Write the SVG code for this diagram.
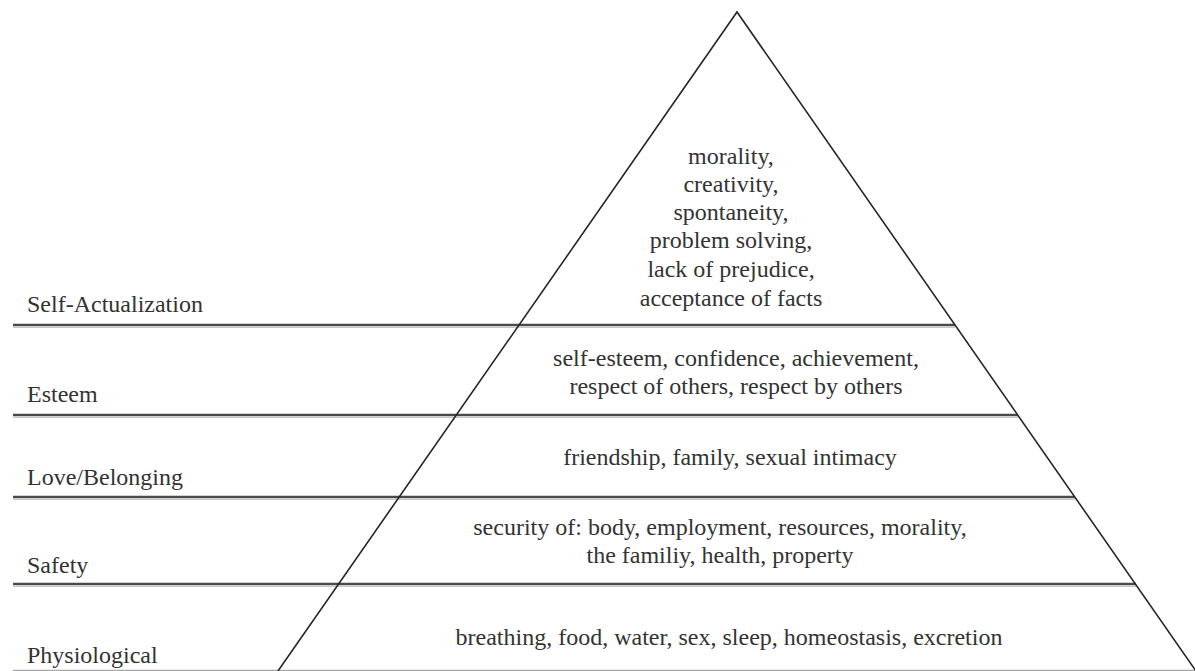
<svg xmlns="http://www.w3.org/2000/svg" width="1195" height="671" viewBox="0 0 1195 671">
  <style>
    .bg { fill: #ffffff; }
    .edge { fill: none; stroke: #262626; stroke-width: 1.6; stroke-linejoin: miter; }
    .rule { stroke: #4a4a4a; stroke-width: 2.4; }
    .rule-shadow { stroke: #c8c8c8; stroke-width: 1.2; }
    .base { stroke: #a8a8a8; stroke-width: 1.5; }
    .label { font-family: "Liberation Serif", "Times New Roman", serif; font-size: 24px; fill: #333333; }
    .need { font-family: "Liberation Serif", "Times New Roman", serif; font-size: 24px; fill: #333333; text-anchor: middle; }
  </style>

  <rect class="bg" x="0" y="0" width="1195" height="671"/>

  <!-- horizontal tier dividers, each running from the left margin to the right side of the pyramid -->
  <g id="dividers">
    <line class="rule-shadow" x1="13" y1="327.5" x2="955" y2="327.5"/>
    <line class="rule" x1="13" y1="325" x2="955" y2="325"/>
    <line class="rule-shadow" x1="13" y1="417.5" x2="1018" y2="417.5"/>
    <line class="rule" x1="13" y1="415" x2="1018" y2="415"/>
    <line class="rule-shadow" x1="13" y1="499.5" x2="1075" y2="499.5"/>
    <line class="rule" x1="13" y1="497" x2="1075" y2="497"/>
    <line class="rule-shadow" x1="13" y1="586.5" x2="1136" y2="586.5"/>
    <line class="rule" x1="13" y1="584" x2="1136" y2="584"/>
    <line class="base" x1="13" y1="670.5" x2="1195" y2="670.5"/>
  </g>

  <!-- pyramid outline -->
  <g id="pyramid">
    <polyline class="edge" points="278,671 737,12 1196,671"/>
  </g>

  <g id="tier-self-actualization">
    <text class="label" x="27" y="312">Self-Actualization</text>
    <text class="need" x="731" y="164">morality,</text>
    <text class="need" x="731" y="192">creativity,</text>
    <text class="need" x="731" y="220">spontaneity,</text>
    <text class="need" x="731" y="248">problem solving,</text>
    <text class="need" x="731" y="277">lack of prejudice,</text>
    <text class="need" x="731" y="306">acceptance of facts</text>
  </g>

  <g id="tier-esteem">
    <text class="label" x="27" y="402">Esteem</text>
    <text class="need" x="736" y="366">self-esteem, confidence, achievement,</text>
    <text class="need" x="736" y="394">respect of others, respect by others</text>
  </g>

  <g id="tier-love-belonging">
    <text class="label" x="27" y="485">Love/Belonging</text>
    <text class="need" x="730" y="465">friendship, family, sexual intimacy</text>
  </g>

  <g id="tier-safety">
    <text class="label" x="27" y="573">Safety</text>
    <text class="need" x="720" y="535">security of: body, employment, resources, morality,</text>
    <text class="need" x="720" y="563">the familiy, health, property</text>
  </g>

  <g id="tier-physiological">
    <text class="label" x="27" y="663">Physiological</text>
    <text class="need" x="729" y="645">breathing, food, water, sex, sleep, homeostasis, excretion</text>
  </g>
</svg>
